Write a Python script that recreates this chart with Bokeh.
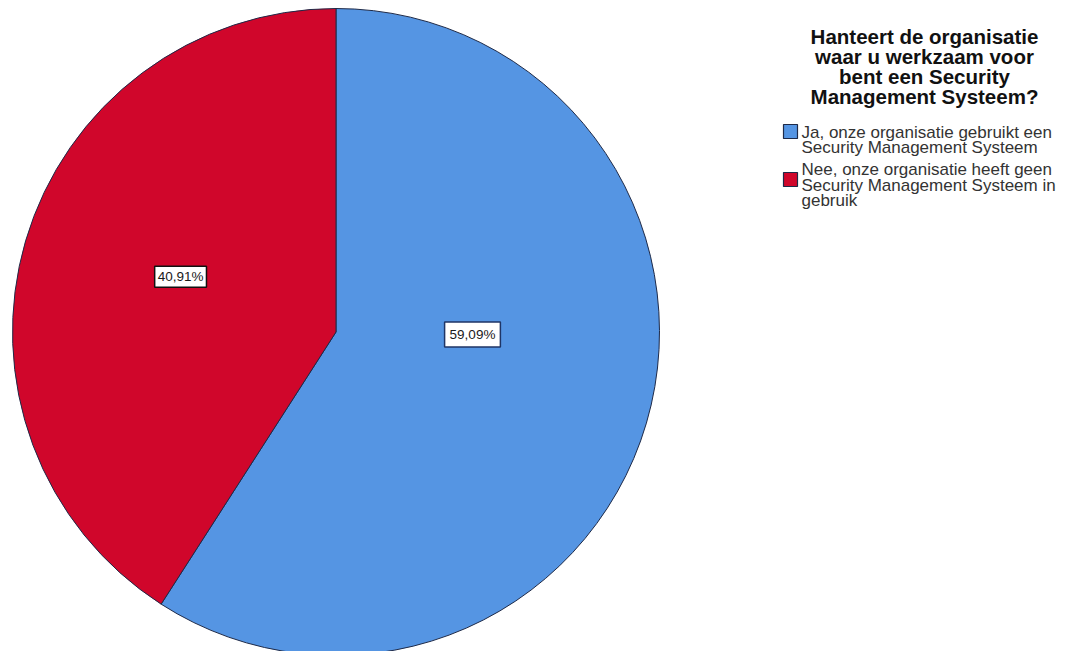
import math
from bokeh.plotting import figure
from bokeh.models import Range1d, Label
from bokeh.core.properties import value
from bokeh.embed import file_html
from bokeh.resources import INLINE

# ---- data ----
categories = ["Ja, onze organisatie gebruikt een Security Management Systeem",
              "Nee, onze organisatie heeft geen Security Management Systeem in gebruik"]
percentages = [59.09, 40.91]
pct_labels = ["59,09%", "40,91%"]
legend_lines = [["Ja, onze organisatie gebruikt een", "Security Management Systeem"],
                ["Nee, onze organisatie heeft geen", "Security Management Systeem in", "gebruik"]]
title_lines = ["Hanteert de organisatie", "waar u werkzaam voor",
               "bent een Security", "Management Systeem?"]
colors = ["#5595E3", "#D0062B"]
edge = "#1E2A48"

W, H = 1070, 651
p = figure(width=W, height=H, output_backend="svg", toolbar_location=None,
           x_range=Range1d(0, W), y_range=Range1d(-H, 0),
           min_border=0)
p.axis.visible = False
p.grid.visible = False
p.outline_line_color = None
p.background_fill_color = "white"

cx, cy, R = 335.5, -331.5, 323.5

# slices: second category drawn counterclockwise from top, first fills the rest
red_start = math.pi / 2
red_end = red_start + percentages[1] / 100 * 2 * math.pi
blue_start = red_end
blue_end = red_start + 2 * math.pi
starts = [blue_start, red_start]
ends = [blue_end, red_end]
p.wedge(x=[cx, cx], y=[cy, cy], radius=R, start_angle=starts, end_angle=ends,
        direction="anticlock", fill_color=colors, line_color=edge, line_width=1)

# percentage labels (placement: angle and radial fraction per slice)
lab_ang = [math.radians(-1.05), math.radians(160.4)]
lab_r = [0.422, 0.510]
lab_pad = [5, 3]
for i in range(2):
    lx = cx + lab_r[i] * R * math.cos(lab_ang[i])
    ly = cy + lab_r[i] * R * math.sin(lab_ang[i])
    p.add_layout(Label(x=lx, y=ly, text=pct_labels[i], text_align="center",
                       text_baseline="middle", text_font="Liberation Sans",
                       text_font_size="13.5px", text_color="#1a1a1a",
                       background_fill_color="white",
                       border_line_color="#111111" if i == 1 else "#1f3566",
                       border_line_width=1.5, padding=lab_pad[i]))

# title
ty0, tdy = -35.5, -20.3
for k, t in enumerate(title_lines):
    p.text(x=[924], y=[ty0 + k * tdy], text=[t], text_align="center",
           text_baseline="alphabetic", text_font=value("Liberation Sans"),
           text_font_style="bold", text_font_size="20.5px", text_color="#111111")

# legend
sq_x = 790
sq_y = [-131, -179]
line_y0 = [-131.5, -169.3]
ldy = -15.3
for i in range(2):
    p.rect(x=[sq_x], y=[sq_y[i]], width=14, height=14, fill_color=colors[i],
           line_color=edge, line_width=1.2)
    for k, t in enumerate(legend_lines[i]):
        p.text(x=[801], y=[line_y0[i] + k * ldy], text=[t], text_align="left",
               text_baseline="alphabetic", text_font=value("Liberation Sans"),
               text_font_size="17px", text_color="#333333")

open("out.html", "w").write(file_html(p, INLINE))
